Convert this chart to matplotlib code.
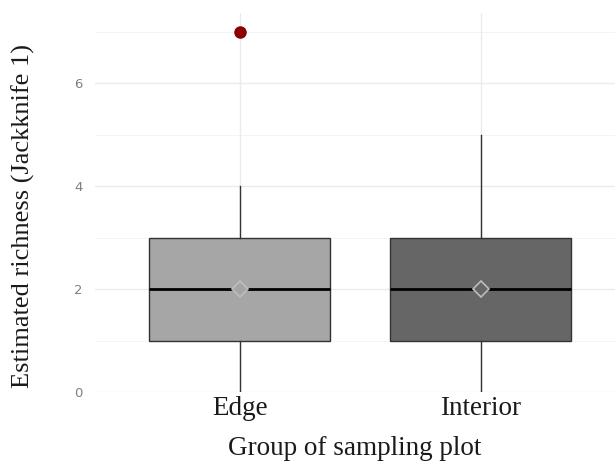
import matplotlib
matplotlib.use("Agg")
import matplotlib.pyplot as plt

groups = ["Edge", "Interior"]
q1 = [1, 1]
medians = [2, 2]
q3 = [3, 3]
whisker_low = [0, 0]
whisker_high = [4, 5]
outliers = [[7], []]
means = [2, 2]
fills = ["#a6a6a6", "#666666"]

stats = []
for i, g in enumerate(groups):
    stats.append(dict(label=g, q1=q1[i], med=medians[i], q3=q3[i],
                      whislo=whisker_low[i], whishi=whisker_high[i],
                      fliers=outliers[i], mean=means[i]))

fig = plt.figure(figsize=(6.15, 4.62), dpi=100)
ax = fig.add_axes([0.1545, 0.1515, 0.8455, 0.8204])

ax.set_axisbelow(True)
for y in [0, 2, 4, 6]:
    ax.axhline(y, color="#ebebeb", lw=1.0, zorder=0)
for y in [1, 3, 5, 7]:
    ax.axhline(y, color="#f2f2f2", lw=0.6, zorder=0)
for x in [1, 2]:
    ax.axvline(x, color="#ebebeb", lw=1.0, zorder=0)

bp = ax.bxp(stats, positions=[1, 2], widths=0.75, patch_artist=True,
            showmeans=True, showcaps=False,
            boxprops=dict(edgecolor="#333333", linewidth=1.0),
            whiskerprops=dict(color="#333333", linewidth=1.0),
            medianprops=dict(color="black", linewidth=2.0),
            flierprops=dict(marker="o", markerfacecolor="#8b0000",
                            markeredgecolor="#8b0000", markersize=8),
            meanprops=dict(marker="D", markerfacecolor="none",
                           markeredgecolor="#bdbdbd", markersize=8,
                           markeredgewidth=1.2))
for patch, c in zip(bp["boxes"], fills):
    patch.set_facecolor(c)
for m, c in zip(bp["means"], fills):
    m.set_markerfacecolor(c)

ax.set_xlim(0.4, 2.556)
ax.set_ylim(0, 7.37)
ax.set_yticks([0, 2, 4, 6])
ax.set_xticks([1, 2])
ax.set_xticklabels(groups, fontfamily="Liberation Serif", fontsize=19.5, color="#1a1a1a")
ax.tick_params(axis="y", labelsize=9.5, labelcolor="#7f7f7f", length=0, pad=9)
ax.tick_params(axis="x", length=0, pad=3)
for s in ax.spines.values():
    s.set_visible(False)

ax.set_xlabel("Group of sampling plot", fontfamily="Liberation Serif", fontsize=19.5,
              color="#1a1a1a", labelpad=11)
ax.set_ylabel("Estimated richness (Jackknife 1)", fontfamily="Liberation Serif",
              fontsize=19, color="#1a1a1a")
ax.yaxis.set_label_coords(-0.115, 0.465)

fig.savefig("out.png", dpi=100)
